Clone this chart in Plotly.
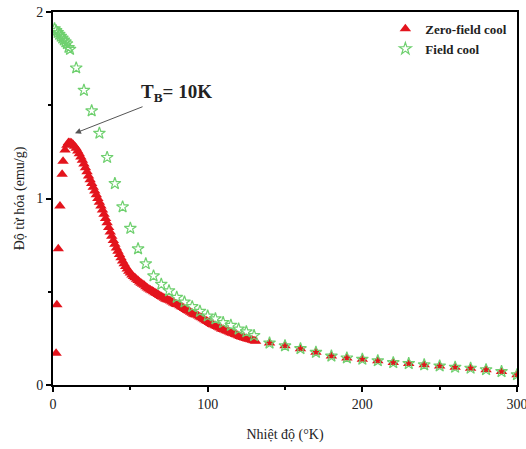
import plotly.graph_objects as go

# Zero-field-cooled magnetisation (emu/g) vs temperature (K)
zfc_low_T = [2.0, 2.5, 3.4, 4.5, 5.9, 6.5, 7.8]
zfc_low_M = [0.17, 0.43, 0.73, 0.96, 1.13, 1.20, 1.26]

zfc_scan_T = list(range(9, 132))
zfc_scan_M = [
    1.285, 1.300, 1.300, 1.298, 1.290, 1.280, 1.270, 1.255, 1.240, 1.222,   # 9-18
    1.205, 1.185, 1.165, 1.143, 1.120, 1.100, 1.080, 1.060, 1.040, 1.020,   # 19-28
    1.000, 0.980, 0.960, 0.938, 0.915, 0.893, 0.870, 0.845, 0.820, 0.797,   # 29-38
    0.775, 0.755, 0.735, 0.717, 0.700, 0.682, 0.665, 0.650, 0.635, 0.622,   # 39-48
    0.610, 0.600, 0.590, 0.582, 0.575, 0.567, 0.560, 0.552, 0.545, 0.540,   # 49-58
    0.535, 0.527, 0.520, 0.515, 0.510, 0.505, 0.500, 0.495, 0.490, 0.485,   # 59-68
    0.480, 0.475, 0.470, 0.465, 0.460, 0.457, 0.455, 0.450, 0.445, 0.440,   # 69-78
    0.435, 0.432, 0.430, 0.425, 0.420, 0.415, 0.410, 0.405, 0.400, 0.395,   # 79-88
    0.390, 0.385, 0.380, 0.377, 0.375, 0.370, 0.365, 0.360, 0.355, 0.350,   # 89-98
    0.345, 0.340, 0.335, 0.330, 0.325, 0.322, 0.318, 0.314, 0.310, 0.305,   # 99-108
    0.300, 0.297, 0.295, 0.291, 0.288, 0.284, 0.280, 0.277, 0.275, 0.271,   # 109-118
    0.268, 0.264, 0.260, 0.257, 0.255, 0.252, 0.250, 0.247, 0.245, 0.242,   # 119-128
    0.240, 0.237, 0.235,                                                    # 129-131
]

zfc_high_T = [140, 150, 160, 170, 180, 190, 200, 210, 220, 230, 240, 250, 260, 270, 280, 290, 300]
zfc_high_M = [0.225, 0.21, 0.195, 0.175, 0.155, 0.145, 0.138, 0.13, 0.12, 0.115, 0.108,
              0.102, 0.095, 0.09, 0.082, 0.072, 0.055]

# Field-cooled magnetisation (emu/g) vs temperature (K)
fc_T = [1, 2, 3, 4, 5, 6, 7, 8, 9, 10, 11,
        15, 20, 25, 30, 35, 40, 45, 50, 55, 60, 65, 70, 75, 80, 85, 90, 95, 100, 105,
        110, 115, 120, 125, 130,
        140, 150, 160, 170, 180, 190, 200, 210, 220, 230, 240, 250, 260, 270, 280, 290, 300]
fc_M = [1.91, 1.90, 1.89, 1.88, 1.87, 1.86, 1.85, 1.84, 1.83, 1.81, 1.80,
        1.70, 1.58, 1.47, 1.35, 1.22, 1.08, 0.955, 0.84, 0.73, 0.65, 0.585, 0.54, 0.505,
        0.47, 0.445, 0.42, 0.395, 0.37, 0.355, 0.335, 0.32, 0.30, 0.285, 0.265,
        0.225, 0.21, 0.195, 0.175, 0.155, 0.145, 0.138, 0.13, 0.12, 0.115, 0.108, 0.102,
        0.095, 0.09, 0.082, 0.072, 0.055]

x_ticks = [0, 100, 200, 300]
y_ticks = [0, 1, 2]

zfc_T = zfc_low_T + zfc_scan_T + zfc_high_T
zfc_M = zfc_low_M + zfc_scan_M + zfc_high_M

serif = "Liberation Serif, Times New Roman, serif"

fig = go.Figure()
fig.add_trace(go.Scatter(
    x=zfc_T, y=zfc_M, mode="markers", name="Zero-field cool",
    marker=dict(symbol="triangle-up", size=10, color="#e3141d",
                line=dict(width=0)),
))
fig.add_trace(go.Scatter(
    x=fc_T, y=fc_M, mode="markers", name="Field cool",
    marker=dict(symbol="star-open", size=9, color="#6fd06f",
                line=dict(width=1.2, color="#6fd06f")),
))

axis_common = dict(
    showgrid=False, zeroline=False, showline=True, linecolor="black",
    linewidth=2, mirror=True, ticks="outside", tickcolor="black",
    tickwidth=2, ticklen=5, automargin=False, ticklabeloverflow="allow",
    tickfont=dict(family=serif, size=14, color="#222"),
)

fig.update_xaxes(
    range=[0, 300], tickvals=x_ticks,
    minor=dict(tickvals=[50, 150, 250], ticks="outside", ticklen=3,
               tickwidth=2, tickcolor="black"),
    title=dict(text="Nhiệt độ (°K)", font=dict(family=serif, size=14, color="#222"),
               standoff=18),
    **axis_common,
)
fig.update_yaxes(
    range=[0, 2], tickvals=y_ticks,
    minor=dict(tickvals=[0.5, 1.5], ticks="outside", ticklen=3,
               tickwidth=2, tickcolor="black"),
    title=dict(text="Độ từ hóa (emu/g)", font=dict(family=serif, size=14, color="#222"),
               standoff=8),
    **axis_common,
)

# Blocking temperature label with an arrow toward the ZFC peak
fig.add_annotation(
    x=14.2, y=1.35, xref="x", yref="y",
    text="<b>T<sub>B</sub>= 10K</b>",
    font=dict(family=serif, size=19, color="#222"),
    showarrow=True, ax=102, ay=-40, axref="pixel", ayref="pixel",
    arrowhead=2, arrowsize=1.2, arrowwidth=1, arrowcolor="#555",
)

fig.update_layout(
    width=526, height=449,
    margin=dict(l=53, r=9, t=12, b=64),
    paper_bgcolor="white", plot_bgcolor="white",
    showlegend=True,
    legend=dict(
        x=0.99, y=0.995, xanchor="right", yanchor="top",
        bgcolor="rgba(0,0,0,0)", borderwidth=0,
        font=dict(family=serif, size=13, color="#222", weight="bold"),
        itemwidth=30, tracegroupgap=0,
    ),
)

fig.write_html("out.html")
